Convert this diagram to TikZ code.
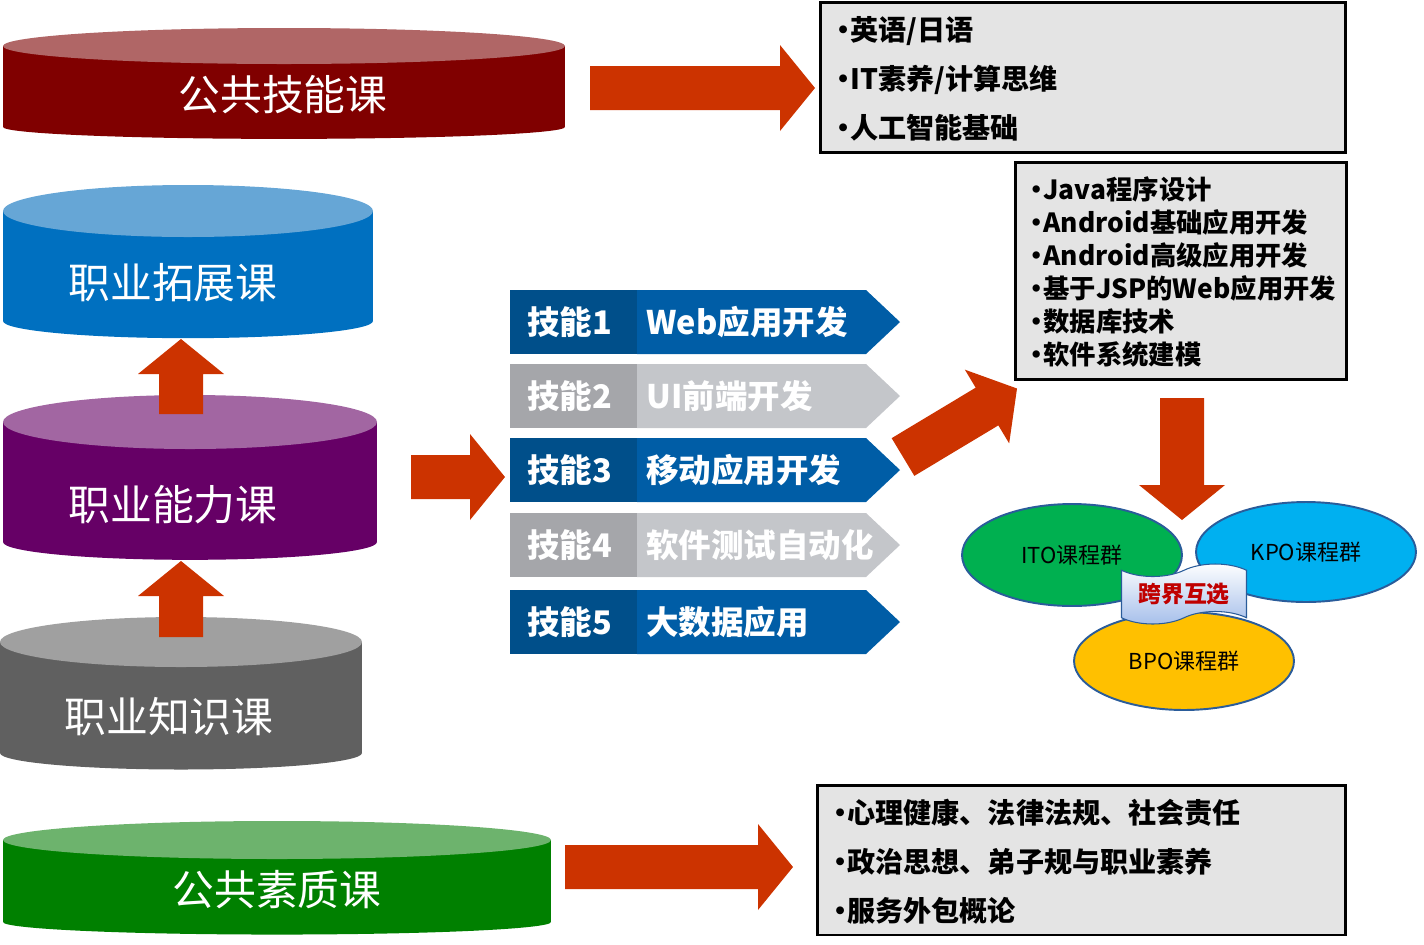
\documentclass[tikz,border=0pt]{standalone}
\usepackage{fontspec}
\newfontfamily\cjk{Noto Sans CJK SC}
\usetikzlibrary{shapes.geometric, shapes.symbols}

\definecolor{arrowred}{HTML}{CC3300}
\definecolor{maroontop}{HTML}{B06666}
\definecolor{maroonbody}{HTML}{800000}
\definecolor{bluetop}{HTML}{66A6D6}
\definecolor{bluebody}{HTML}{0070C0}
\definecolor{purpletop}{HTML}{A266A2}
\definecolor{purplebody}{HTML}{660066}
\definecolor{graytop}{HTML}{A0A0A0}
\definecolor{graybody}{HTML}{606060}
\definecolor{greentop}{HTML}{6DB36D}
\definecolor{greenbody}{HTML}{008000}
\definecolor{skblueleft}{HTML}{004F8A}
\definecolor{skblueright}{HTML}{005DA6}
\definecolor{skgrayleft}{HTML}{A5A6AA}
\definecolor{skgrayright}{HTML}{C4C6CA}
\definecolor{boxgray}{HTML}{E4E4E4}
\definecolor{itogreen}{HTML}{00B050}
\definecolor{kpocyan}{HTML}{00B0F0}
\definecolor{bpoyellow}{HTML}{FFC000}
\definecolor{ellborder}{HTML}{2A5C9A}
\definecolor{bannerblue}{HTML}{A4BEEA}
\definecolor{bannerred}{HTML}{C00000}

% cylinder: name, x left, x right, y top, y bottom, colour, text, text position, top radius
\newcommand{\course}[9]{%
  \fill[#6body] (#2,#4) rectangle (#3,#5);
  \fill[#6body] ({(#2+#3)/2},#5) ellipse[x radius={(#3-#2)/2}, y radius={0.66*#9}];
  \fill[#6top] ({(#2+#3)/2},#4) ellipse[x radius={(#3-#2)/2}, y radius=#9];
  \node[coursetxt] (#1) at (#8) {#7};
}
% skill bar: name, y, colour, label, text
\newcommand{\skillbar}[5]{%
  \fill[#3left] (510,#2-32) rectangle (637,#2+32);
  \fill[#3right] (637,#2-32) -- (866,#2-32) -- (900,#2) -- (866,#2+32) -- (637,#2+32) -- cycle;
  \node[skilltxt] (#1a) at (527,#2) {#4};
  \node[skilltxt] (#1b) at (646,#2) {#5};
}
% block arrow: x, y of tail, angle, length
\newcommand{\bigarrow}[4]{%
  \fill[arrowred, shift={(#1,#2)}, rotate=#3] (0,-22) -- (#4-35,-22) -- (#4-35,-43)
    -- (#4,0) -- (#4-35,43) -- (#4-35,22) -- (0,22) -- cycle;
}
\newcommand{\bul}{\makebox[0.5em][c]{•}}

\begin{document}
\begin{tikzpicture}[x=0.02cm, y=-0.02cm,
    coursetxt/.style={text=white, font=\cjk\fontsize{23.8}{28}\selectfont},
    skilltxt/.style={anchor=west, inner sep=0pt, text=white, font=\cjk\bfseries\fontsize{18.5}{22}\selectfont},
    infobox/.style={draw=black, line width=1.7pt, fill=boxgray, inner sep=0pt},
    boxtxt/.style={anchor=west, align=left, inner sep=0pt},
    group/.style={ellipse, draw=ellborder, line width=1.1pt, minimum width=4.4cm, minimum height=2.04cm, font=\cjk\fontsize{12.5}{15}\selectfont}]
  \useasboundingbox (0,0) rectangle (1424,944);

  \course{skillcourse}{3}{565}{46}{127}{maroon}{公共技能课}{283,95}{18}
  \course{extcourse}{3}{373}{211}{321}{blue}{职业拓展课}{173,283}{26}
  \course{abilitycourse}{3}{377}{422}{542}{purple}{职业能力课}{173,505}{27}
  \course{knowcourse}{0}{362}{642}{753}{gray}{职业知识课}{169,717}{25}
  \course{qualitycourse}{3}{551}{840}{922}{green}{公共素质课}{277,890}{19}

  \bigarrow{181}{414}{90}{75}
  \bigarrow{181}{637}{90}{76}
  \bigarrow{590}{88}{0}{225}
  \bigarrow{411}{477}{0}{94}
  \bigarrow{565}{867}{0}{228}
  \bigarrow{903}{457}{31}{133}
  \bigarrow{1182}{398}{-90}{122}

  \skillbar{sk1}{322}{skblue}{技能1}{Web应用开发}
  \skillbar{sk2}{396}{skgray}{技能2}{UI前端开发}
  \skillbar{sk3}{470}{skblue}{技能3}{移动应用开发}
  \skillbar{sk4}{545}{skgray}{技能4}{软件测试自动化}
  \skillbar{sk5}{622}{skblue}{技能5}{大数据应用}

  \node[infobox, minimum width=10.52cm, minimum height=3.02cm] (generalbox) at (1083,77.5) {};
  \node[boxtxt, font=\cjk\bfseries\fontsize{16}{27.8}\selectfont] (generaltxt) at (836,79)
    {\bul 英语/日语\\\bul IT素养/计算思维\\\bul 人工智能基础};
  \node[infobox, minimum width=6.64cm, minimum height=4.36cm] (mobilebox) at (1181,271) {};
  \node[boxtxt, font=\cjk\bfseries\fontsize{15}{18.7}\selectfont] (mobiletxt) at (1030,272)
    {\bul Java程序设计\\\bul Android基础应用开发\\\bul Android高级应用开发\\\bul 基于JSP的Web应用开发\\\bul 数据库技术\\\bul 软件系统建模};
  \node[infobox, minimum width=10.58cm, minimum height=3cm] (qualitybox) at (1081.5,860) {};
  \node[boxtxt, font=\cjk\bfseries\fontsize{16}{28}\selectfont] (qualitytxt) at (833,861.5)
    {\bul 心理健康、法律法规、社会责任\\\bul 政治思想、弟子规与职业素养\\\bul 服务外包概论};

  \node[group, fill=itogreen] (ito) at (1072,555) {ITO课程群};
  \node[group, fill=kpocyan, minimum height=2cm] (kpo) at (1306,552) {KPO课程群};
  \node[group, fill=bpoyellow, minimum height=1.96cm] (bpo) at (1184,661) {BPO课程群};
  \node[tape, draw=ellborder, line width=0.6pt, top color=white, bottom color=bannerblue,
    minimum width=2.5cm, minimum height=1.2cm, tape bend height=0.25cm,
    text=bannerred, font=\cjk\bfseries\fontsize{13}{15}\selectfont] (mix) at (1184,594) {跨界互选};
\end{tikzpicture}
\end{document}
